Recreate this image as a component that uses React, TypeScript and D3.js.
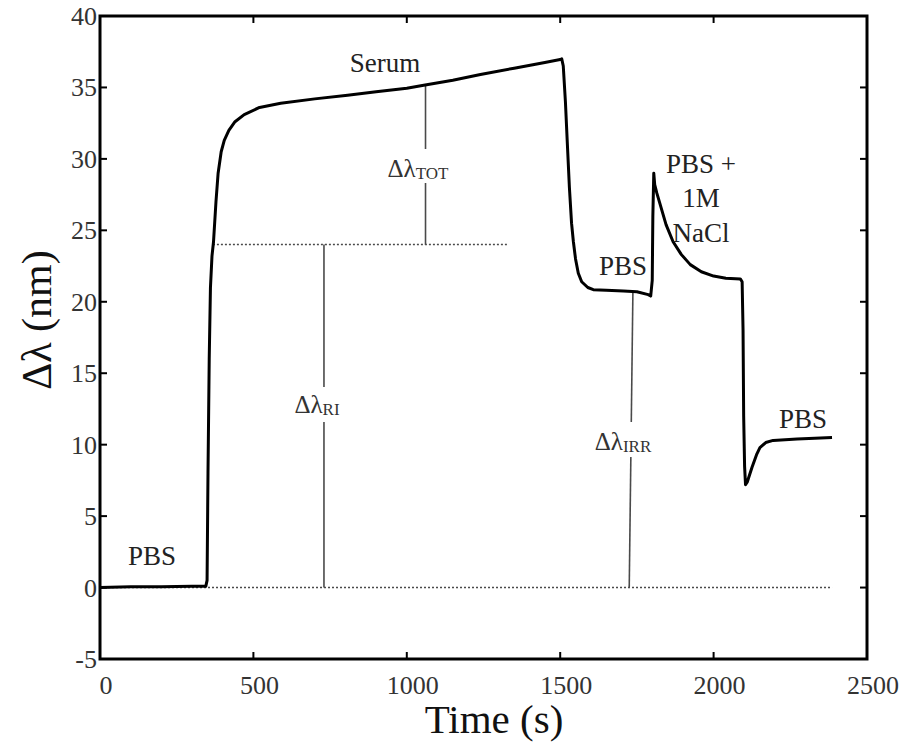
import React from "react";
import * as d3 from "d3";

// Sensor response trace: time (s) and wavelength shift (nm)
const times = [
  0, 100, 200, 300, 345, 349, 352, 356, 360, 365, 370, 378, 385, 395, 405, 420, 440, 470, 520, 589,
  700, 807, 900, 1000, 1055, 1150, 1240, 1350, 1450, 1500, 1505, 1510, 1517, 1523, 1530, 1537, 1543,
  1550, 1559, 1570, 1590, 1608, 1650, 1706, 1750, 1787, 1795, 1800, 1802, 1805, 1808, 1815, 1826,
  1845, 1868, 1895, 1924, 1960, 2000, 2040, 2087, 2093, 2096, 2098, 2101, 2104, 2110, 2125, 2140,
  2151, 2170, 2194, 2272, 2330, 2386,
];
const shifts = [
  0, 0.05, 0.05, 0.1, 0.1, 0.5, 8, 16, 21, 23.2, 24.2, 27, 29, 30.5, 31.3, 32, 32.6, 33.1, 33.6, 33.9,
  34.2, 34.45, 34.7, 34.95, 35.15, 35.5, 35.9, 36.35, 36.75, 36.95, 37.0, 36.5, 34, 31.2, 28, 25.5, 24.2,
  23.0, 22.0, 21.4, 21.0, 20.85, 20.8, 20.75, 20.7, 20.5, 20.4, 21.5, 26, 29.0, 28.2, 27.6, 26.8,
  25.4, 24.2, 23.3, 22.6, 22.1, 21.8, 21.65, 21.6, 21.4, 18, 12, 8.5, 7.2, 7.4, 8.4, 9.3,
  9.8, 10.15, 10.3, 10.4, 10.45, 10.5,
];

const xTicks = [0, 500, 1000, 1500, 2000, 2500];
const yTicks = [-5, 0, 5, 10, 15, 20, 25, 30, 35, 40];

// Reference levels (dotted)
const riLevel = 24;
const riStart = 368;
const riEnd = 1331;
const zeroEnd = 2386;

// Marker lines: [time at bottom, time at top, bottom value, top value]
const riMarker = [730, 730, 0, 24];
const totMarker = [1061, 1061, 24, 35.2];
const irrMarker = [1725, 1737, 0, 20.75];

const W = 908;
const H = 749;
const left = 100;
const right = 867;
const top = 16;
const bottom = 659;

export default function App() {
  const x = d3.scaleLinear().domain([0, 2500]).range([left, right]);
  const y = d3.scaleLinear().domain([-5, 40]).range([bottom, top]);

  const pts: [number, number][] = times.map((t, i) => [t, shifts[i]]);
  const line = d3
    .line<[number, number]>()
    .x((d) => x(d[0]))
    .y((d) => y(d[1]))
    .curve(d3.curveLinear);

  const serif = "'Liberation Serif', 'Times New Roman', serif";
  const grey = "#4a4a4a";

  // vertical marker with a gap for its label
  const marker = (m: number[], gapTop: number, gapBottom: number, key: string) => {
    const x0 = x(m[0]);
    const x1 = x(m[1]);
    const yb = y(m[2]);
    const yt = y(m[3]);
    const xAt = (py: number) => x0 + ((x1 - x0) * (yb - py)) / (yb - yt);
    return (
      <g key={key} stroke={grey} strokeWidth={1.6}>
        <line x1={xAt(yt)} y1={yt} x2={xAt(gapTop)} y2={gapTop} />
        <line x1={xAt(gapBottom)} y1={gapBottom} x2={x0} y2={yb} />
      </g>
    );
  };

  const sub = (cx: number, baseline: number, s: string) => (
    <text x={cx} y={baseline} fontFamily={serif} fill="#333" textAnchor="middle">
      <tspan fontSize={25}>Δλ</tspan>
      <tspan fontSize={17} dy={2}>{s}</tspan>
    </text>
  );

  return (
    <svg width={W} height={H} style={{ position: "absolute", left: 0, top: 0, background: "#fff" }}>
      {/* dotted reference levels */}
      <line
        x1={x(0)}
        x2={x(zeroEnd)}
        y1={y(0)}
        y2={y(0)}
        stroke={grey}
        strokeWidth={1.5}
        strokeDasharray="2,2"
      />
      <line
        x1={x(riStart)}
        x2={x(riEnd)}
        y1={y(riLevel)}
        y2={y(riLevel)}
        stroke={grey}
        strokeWidth={1.5}
        strokeDasharray="2,2"
      />

      {/* markers */}
      {marker(riMarker, 387, 422, "ri")}
      {marker(totMarker, 149, 183, "tot")}
      {marker(irrMarker, 422, 457, "irr")}

      {/* trace */}
      <path d={line(pts) || ""} fill="none" stroke="#000" strokeWidth={3} strokeLinejoin="round" />

      {/* frame */}
      <rect x={left} y={top} width={right - left} height={bottom - top} fill="none" stroke="#000" strokeWidth={3} />

      {/* ticks (inside, all sides) */}
      {xTicks.map((t) => (
        <g key={"xt" + t} stroke="#000" strokeWidth={2}>
          <line x1={x(t)} x2={x(t)} y1={bottom} y2={bottom - 7} />
          <line x1={x(t)} x2={x(t)} y1={top} y2={top + 7} />
        </g>
      ))}
      {yTicks.map((t) => (
        <g key={"yt" + t} stroke="#000" strokeWidth={2}>
          <line x1={left} x2={left + 7} y1={y(t)} y2={y(t)} />
          <line x1={right} x2={right - 7} y1={y(t)} y2={y(t)} />
        </g>
      ))}

      {/* tick labels */}
      {xTicks.map((t) => (
        <text
          key={"xl" + t}
          x={x(t) + 6}
          y={694}
          textAnchor="middle"
          fontFamily={serif}
          fontSize={26}
          fill="#333"
        >
          {t}
        </text>
      ))}
      {yTicks.map((t) => (
        <text
          key={"yl" + t}
          x={97}
          y={y(t) + 9}
          textAnchor="end"
          fontFamily={serif}
          fontSize={26}
          fill="#333"
        >
          {t}
        </text>
      ))}

      {/* axis titles */}
      <text x={494} y={733} textAnchor="middle" fontFamily={serif} fontSize={41} fill="#111">
        Time (s)
      </text>
      <text
        transform="translate(51,320) rotate(-90)"
        textAnchor="middle"
        fontFamily={serif}
        fontSize={42}
        fill="#111"
      >
        Δλ (nm)
      </text>

      {/* annotations */}
      <g fontFamily={serif} fontSize={27} fill="#222" textAnchor="middle">
        <text x={152} y={565}>PBS</text>
        <text x={385} y={72}>Serum</text>
        <text x={623} y={275}>PBS</text>
        <text x={701} y={173}>PBS +</text>
        <text x={701} y={207}>1M</text>
        <text x={701} y={242}>NaCl</text>
        <text x={803} y={428}>PBS</text>
      </g>
      {sub(418, 177, "TOT")}
      {sub(317, 413, "RI")}
      {sub(623, 450, "IRR")}
    </svg>
  );
}
